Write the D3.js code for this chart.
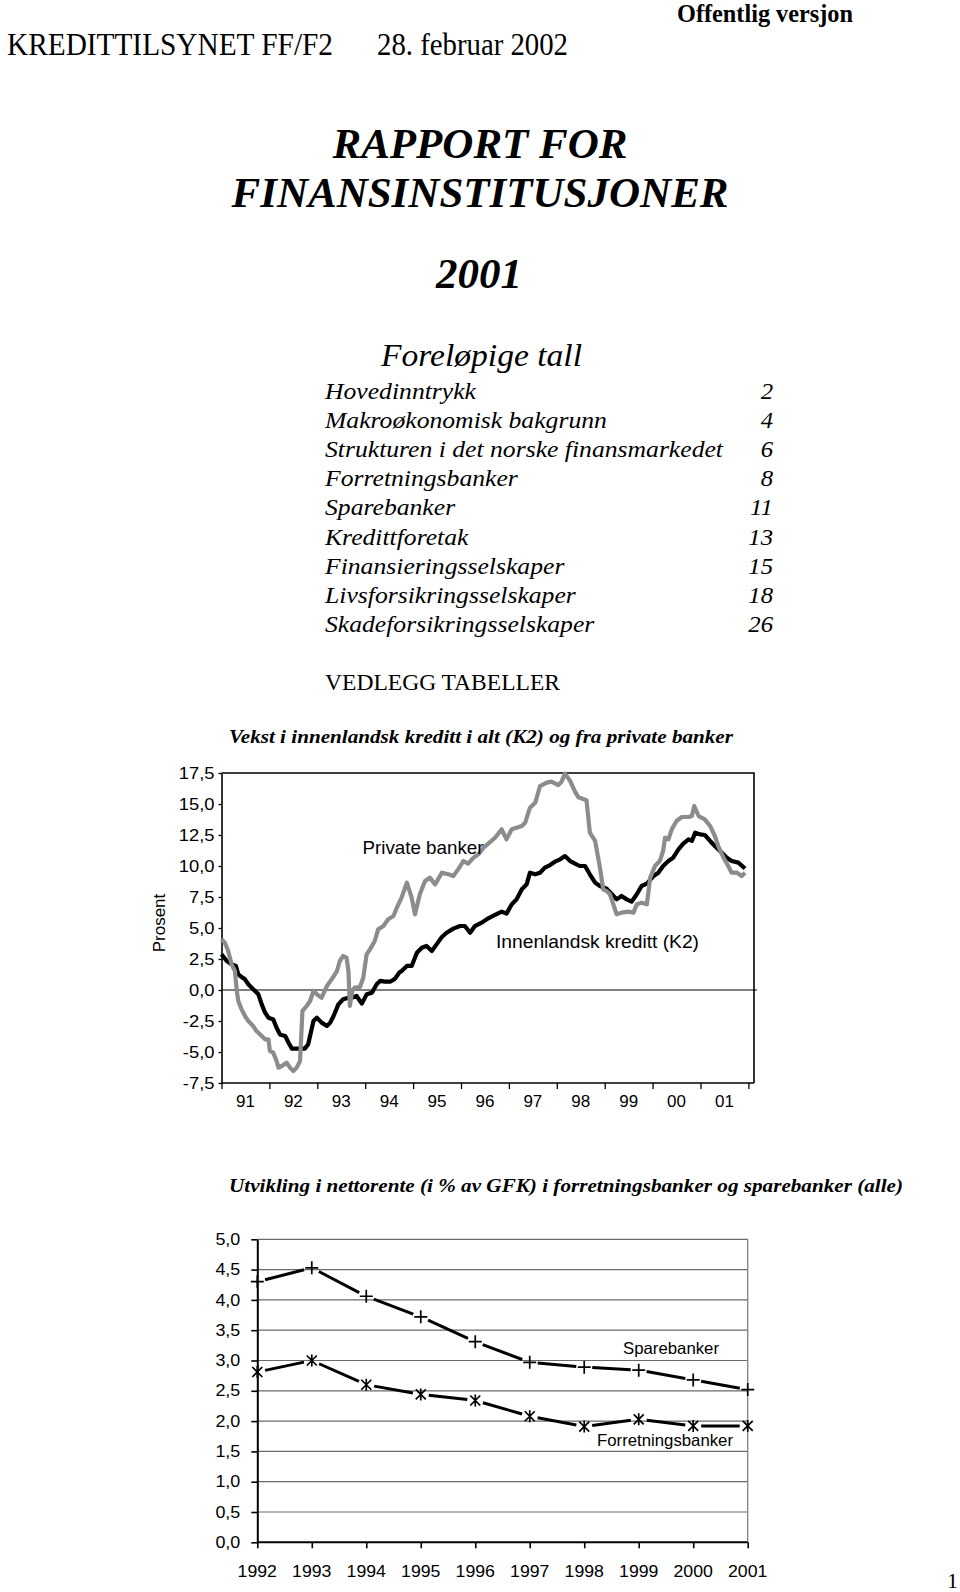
<!DOCTYPE html>
<html><head><meta charset="utf-8">
<script src="https://cdn.jsdelivr.net/npm/d3@7"></script>
<style>body{margin:0;background:#fff}svg{display:block}</style>
</head><body>
<svg id="page" width="960" height="1592"></svg>
<script>
// ---------- DATA ----------
const tocItems = ["Hovedinntrykk","Makroøkonomisk bakgrunn","Strukturen i det norske finansmarkedet","Forretningsbanker","Sparebanker","Kredittforetak","Finansieringsselskaper","Livsforsikringsselskaper","Skadeforsikringsselskaper"];
const tocPages = ["2","4","6","8","11","13","15","18","26"];

const k2Dates = [1991.00,1991.11,1991.21,1991.30,1991.35,1991.42,1991.49,1991.56,1991.63,1991.70,1991.77,1991.84,1991.91,1991.98,1992.08,1992.15,1992.22,1992.33,1992.40,1992.47,1992.60,1992.74,1992.81,1992.92,1992.99,1993.09,1993.20,1993.27,1993.34,1993.44,1993.54,1993.65,1993.72,1993.82,1993.93,1994.03,1994.14,1994.24,1994.31,1994.41,1994.52,1994.62,1994.72,1994.76,1994.87,1994.97,1995.08,1995.18,1995.28,1995.39,1995.49,1995.60,1995.70,1995.84,1995.98,1996.08,1996.19,1996.29,1996.43,1996.57,1996.71,1996.85,1996.95,1997.06,1997.16,1997.27,1997.37,1997.44,1997.55,1997.65,1997.75,1997.86,1997.96,1998.07,1998.17,1998.28,1998.38,1998.48,1998.59,1998.69,1998.80,1998.90,1999.04,1999.15,1999.25,1999.35,1999.46,1999.56,1999.67,1999.77,1999.88,2000.02,2000.12,2000.22,2000.33,2000.43,2000.54,2000.64,2000.75,2000.82,2000.89,2000.99,2001.09,2001.20,2001.30,2001.44,2001.55,2001.65,2001.79,2001.93];
const k2Values = [2.88,2.34,2.07,1.94,1.26,1.05,0.86,0.46,0.19,-0.08,-0.35,-1.16,-1.83,-2.23,-2.37,-3.04,-3.58,-3.71,-4.25,-4.73,-4.73,-4.73,-4.38,-2.50,-2.23,-2.63,-2.90,-2.63,-2.10,-1.16,-0.75,-0.62,-0.62,-0.48,-1.10,-0.35,-0.22,0.46,0.73,0.67,0.67,0.90,1.45,1.53,1.94,1.94,3.01,3.41,3.55,3.15,3.68,4.27,4.62,4.95,5.16,5.16,4.62,5.16,5.43,5.78,6.05,6.32,6.16,6.91,7.31,8.12,8.52,9.46,9.33,9.46,9.87,10.08,10.35,10.54,10.80,10.40,10.20,10.00,10.00,9.33,8.66,8.39,8.17,7.72,7.31,7.58,7.31,7.12,7.72,8.39,8.58,9.19,9.46,10.00,10.40,10.67,11.34,11.80,12.15,12.02,12.69,12.55,12.50,12.02,11.61,11.08,10.67,10.40,10.27,9.80];

const privDates = [1991.00,1991.07,1991.14,1991.21,1991.28,1991.32,1991.35,1991.42,1991.49,1991.56,1991.66,1991.73,1991.84,1991.91,1991.98,1992.01,1992.08,1992.15,1992.19,1992.26,1992.36,1992.43,1992.50,1992.57,1992.64,1992.69,1992.78,1992.85,1992.92,1992.99,1993.09,1993.20,1993.30,1993.41,1993.47,1993.54,1993.61,1993.65,1993.68,1993.73,1993.78,1993.89,1993.96,1994.03,1994.10,1994.20,1994.27,1994.38,1994.48,1994.59,1994.66,1994.76,1994.87,1994.97,1995.04,1995.14,1995.25,1995.35,1995.46,1995.60,1995.74,1995.84,1995.94,1996.05,1996.15,1996.26,1996.36,1996.47,1996.57,1996.71,1996.85,1996.95,1997.06,1997.16,1997.27,1997.34,1997.44,1997.55,1997.65,1997.79,1997.89,1998.03,1998.10,1998.17,1998.28,1998.38,1998.45,1998.55,1998.62,1998.69,1998.80,1998.90,1998.97,1999.04,1999.11,1999.18,1999.25,1999.35,1999.49,1999.60,1999.67,1999.77,1999.88,1999.95,2000.05,2000.15,2000.22,2000.26,2000.33,2000.40,2000.50,2000.61,2000.75,2000.82,2000.87,2000.96,2001.09,2001.20,2001.30,2001.37,2001.48,2001.58,2001.65,2001.76,2001.86,2001.93];
const privValues = [4.09,3.82,3.15,2.07,1.53,-0.08,-0.89,-1.56,-2.10,-2.50,-2.90,-3.31,-3.71,-3.98,-3.98,-4.92,-5.05,-5.73,-6.26,-6.13,-5.86,-6.26,-6.53,-6.26,-5.73,-1.69,-1.29,-0.89,-0.08,-0.35,-0.62,0.32,0.86,1.53,2.34,2.74,2.61,1.53,-1.29,-0.08,0.19,0.24,0.99,2.88,3.28,3.95,4.89,5.16,5.70,5.97,6.64,7.45,8.66,7.45,6.10,7.72,8.79,9.06,8.52,9.46,9.33,9.19,9.73,10.40,10.19,10.67,10.94,11.48,11.80,12.28,12.96,12.15,12.96,13.09,13.23,13.49,14.70,15.10,16.45,16.72,16.80,16.53,16.80,17.45,16.85,16.00,15.55,15.40,15.30,12.69,12.02,9.87,8.12,7.98,7.72,6.91,6.10,6.24,6.32,6.24,6.91,7.04,6.91,9.06,10.00,10.40,11.21,12.28,12.15,12.96,13.63,13.95,13.95,14.03,14.84,14.03,13.76,13.23,12.42,11.61,10.67,10.00,9.46,9.46,9.19,9.46];

const yTicks1 = [-7.5,-5,-2.5,0,2.5,5,7.5,10,12.5,15,17.5];
const xYears1 = [1991,1992,1993,1994,1995,1996,1997,1998,1999,2000,2001];
const xLabels1 = ["91","92","93","94","95","96","97","98","99","00","01"];

const years2 = ["1992","1993","1994","1995","1996","1997","1998","1999","2000","2001"];
const sparebanker = [4.30,4.53,4.06,3.72,3.31,2.97,2.89,2.84,2.68,2.52];
const forretningsbanker = [2.81,3.00,2.60,2.44,2.34,2.08,1.91,2.03,1.92,1.92];
const yTicks2 = [0,0.5,1,1.5,2,2.5,3,3.5,4,4.5,5];

// ---------- HELPERS ----------
const svg = d3.select("#page");
const SERIF = "'Liberation Serif','Times New Roman',serif";
const SANS = "'Liberation Sans',Arial,sans-serif";
const loc = d3.formatLocale({decimal:",",thousands:" ",grouping:[3],currency:["","kr"],minus:"-"});
const fmt1 = loc.format(".1f");
function fitW(sel,w){ return sel.attr("textLength",w).attr("lengthAdjust","spacingAndGlyphs"); }
function stretch(sel,k){ sel.each(function(){ const w=this.getComputedTextLength(); this.setAttribute("textLength",w*k); this.setAttribute("lengthAdjust","spacingAndGlyphs"); }); return sel; }
function txt(x,y,s,opt){
  const t = svg.append("text").attr("x",x).attr("y",y).text(s)
    .attr("font-family",opt.family||SERIF).attr("font-size",opt.size)
    .attr("font-style",opt.italic?"italic":"normal").attr("font-weight",opt.bold?"bold":"normal")
    .attr("text-anchor",opt.anchor||"start").attr("fill","#000");
  if(opt.w) fitW(t,opt.w);
  if(opt.k) stretch(t,opt.k);
  return t;
}

// ---------- PAGE TEXT ----------
txt(677,21.5,"Offentlig versjon",{size:25,bold:true,w:176});
txt(7,54.5,"KREDITTILSYNET FF/F2",{size:32,w:326});
txt(377,54.5,"28. februar 2002",{size:32,w:191});

txt(480,158,"RAPPORT FOR",{size:43,bold:true,italic:true,anchor:"middle"});
txt(480,207,"FINANSINSTITUSJONER",{size:43,bold:true,italic:true,anchor:"middle"});
txt(479,288,"2001",{size:43,bold:true,italic:true,anchor:"middle"});

txt(381,366,"Foreløpige tall",{size:31,italic:true,w:201});
const tocY = d3.scaleLinear().domain([0,1]).range([398.5,427.7]);
tocItems.forEach((s,i)=>{
  txt(325,tocY(i),s,{size:22.5,italic:true,k:1.14});
  txt(773,tocY(i),tocPages[i],{size:22.5,italic:true,anchor:"end",k:1.1});
});
txt(325,690,"VEDLEGG TABELLER",{size:23,w:235});

// ---------- CHART 1 ----------
const c1 = {left:221.5,right:754,top:773,bottom:1083};
const x1 = d3.scaleLinear().domain([1991,2002]).range([221.5,748.4]);
const y1 = d3.scaleLinear().domain([-7.5,17.5]).range([c1.bottom,c1.top]);

txt(229,743,"Vekst i innenlandsk kreditt i alt (K2) og fra private banker",{size:19,bold:true,italic:true,w:504});

const g1 = svg.append("g");
g1.append("path").attr("d",`M${c1.left},${c1.top}H${c1.right}V${c1.bottom}`).attr("fill","none").attr("stroke","#000").attr("stroke-width",1.6);
g1.append("line").attr("x1",c1.left).attr("x2",757).attr("y1",y1(0)).attr("y2",y1(0)).attr("stroke","#000").attr("stroke-width",1);

const ax1 = g1.append("g").attr("transform",`translate(${c1.left},0)`)
  .call(d3.axisLeft(y1).tickValues(yTicks1).tickSize(3).tickSizeOuter(0).tickPadding(4).tickFormat(fmt1));
ax1.select(".domain").attr("stroke-width",1.6);
ax1.selectAll(".tick line").attr("stroke-width",1.3);
ax1.selectAll("text").attr("font-family",SANS).attr("font-size",17).attr("fill","#000");
ax1.selectAll(".tick text").each(function(){ stretch(d3.select(this),1.08); });

const bx1 = g1.append("g").attr("transform",`translate(0,${c1.bottom})`)
  .call(d3.axisBottom(x1).tickValues(d3.range(1991,2003)).tickSize(6).tickSizeOuter(0).tickFormat(""));
bx1.select(".domain").attr("d",`M${c1.left},0H${c1.right}`).attr("stroke-width",1.6);
bx1.selectAll(".tick line").attr("stroke-width",1.3);
g1.selectAll(".xl1").data(xYears1).join("text").attr("class","xl1")
  .attr("x",(d)=>x1(d+0.5)).attr("y",1106.5).attr("text-anchor","middle")
  .attr("font-family",SANS).attr("font-size",17).text((d,i)=>xLabels1[i]);

svg.append("text").attr("transform","translate(164.5,923) rotate(-90)").attr("text-anchor","middle")
  .attr("font-family",SANS).attr("font-size",17).text("Prosent");

const line1 = d3.line().x(d=>x1(d[0])).y(d=>y1(d[1]));
const k2 = k2Dates.map((d,i)=>[d,k2Values[i]]);
const pr = privDates.map((d,i)=>[d,privValues[i]]);
g1.append("path").attr("d",line1(k2)).attr("fill","none").attr("stroke","#000").attr("stroke-width",4.2).attr("stroke-linejoin","round");
g1.append("path").attr("d",line1(pr)).attr("fill","none").attr("stroke","#8c8c8c").attr("stroke-width",4.2).attr("stroke-linejoin","round");

txt(362.5,854,"Private banker",{family:SANS,size:18.5,w:121});
txt(496,948,"Innenlandsk kreditt (K2)",{family:SANS,size:18.5,w:203});

// ---------- CHART 2 ----------
const c2 = {left:257.3,right:747.7,top:1239.3,bottom:1542.3};
const x2 = d3.scalePoint().domain(years2).range([c2.left,c2.right]);
const y2 = d3.scaleLinear().domain([0,5]).range([c2.bottom,c2.top]);

txt(229,1192,"Utvikling i nettorente  (i % av GFK) i forretningsbanker og sparebanker (alle)",{size:18.5,bold:true,italic:true,w:674});

const g2 = svg.append("g");
g2.selectAll(".grid").data(yTicks2.filter(d=>d>0)).join("line").attr("class","grid")
  .attr("x1",c2.left).attr("x2",c2.right).attr("y1",d=>y2(d)).attr("y2",d=>y2(d))
  .attr("stroke","#6a6a6a").attr("stroke-width",1.2);
g2.append("line").attr("x1",c2.right).attr("x2",c2.right).attr("y1",c2.top).attr("y2",c2.bottom)
  .attr("stroke","#808080").attr("stroke-width",1.3);

const ax2 = g2.append("g").attr("transform",`translate(${c2.left},0)`)
  .call(d3.axisLeft(y2).tickValues(yTicks2).tickSize(6).tickSizeOuter(0).tickPadding(11).tickFormat(fmt1));
ax2.select(".domain").attr("stroke-width",2);
ax2.selectAll(".tick line").attr("stroke-width",1.6);
ax2.selectAll("text").attr("font-family",SANS).attr("font-size",16).attr("fill","#000");
ax2.selectAll(".tick text").each(function(){ stretch(d3.select(this),1.12); });

const bx2 = g2.append("g").attr("transform",`translate(0,${c2.bottom})`)
  .call(d3.axisBottom(x2).tickSize(6).tickSizeOuter(0).tickFormat(""));
bx2.select(".domain").attr("d",`M${c2.left},0H${c2.right}`).attr("stroke-width",2);
bx2.selectAll(".tick line").attr("stroke-width",1.6);
g2.selectAll(".xl2").data(years2).join("text").attr("class","xl2")
  .attr("x",d=>x2(d)).attr("y",1576.5).attr("text-anchor","middle")
  .attr("font-family",SANS).attr("font-size",17).text(d=>d)
  .each(function(){ stretch(d3.select(this),1.04); });

function gappedSeries(vals, gap){
  const pts = years2.map((yr,i)=>[x2(yr),y2(vals[i])]);
  const segs = [];
  for(let i=0;i<pts.length-1;i++){
    const [ax,ay]=pts[i],[bx,by]=pts[i+1];
    const dx=bx-ax,dy=by-ay,L=Math.hypot(dx,dy),ux=dx/L,uy=dy/L;
    segs.push([[ax+ux*gap,ay+uy*gap],[bx-ux*gap,by-uy*gap]]);
  }
  return {pts,segs};
}
function drawSeries(vals, marker){
  const {pts,segs} = gappedSeries(vals,8);
  g2.append("g").selectAll("line").data(segs).join("line")
    .attr("x1",d=>d[0][0]).attr("y1",d=>d[0][1]).attr("x2",d=>d[1][0]).attr("y2",d=>d[1][1])
    .attr("stroke","#000").attr("stroke-width",3);
  g2.append("g").selectAll("path").data(pts).join("path")
    .attr("transform",d=>`translate(${d[0]},${d[1]})`).attr("d",marker)
    .attr("fill","none").attr("stroke","#000").attr("stroke-width",1.7);
}
drawSeries(sparebanker,"M-6.5,0H6.5M0,-6.5V6.5");
drawSeries(forretningsbanker,"M-5,-5L5,5M-5,5L5,-5M0,-6V6");

txt(623,1354,"Sparebanker",{family:SANS,size:16.5,w:96});
txt(597,1446,"Forretningsbanker",{family:SANS,size:16.5,w:136});

txt(958,1588,"1",{size:22,anchor:"end"});
</script>
</body></html>
